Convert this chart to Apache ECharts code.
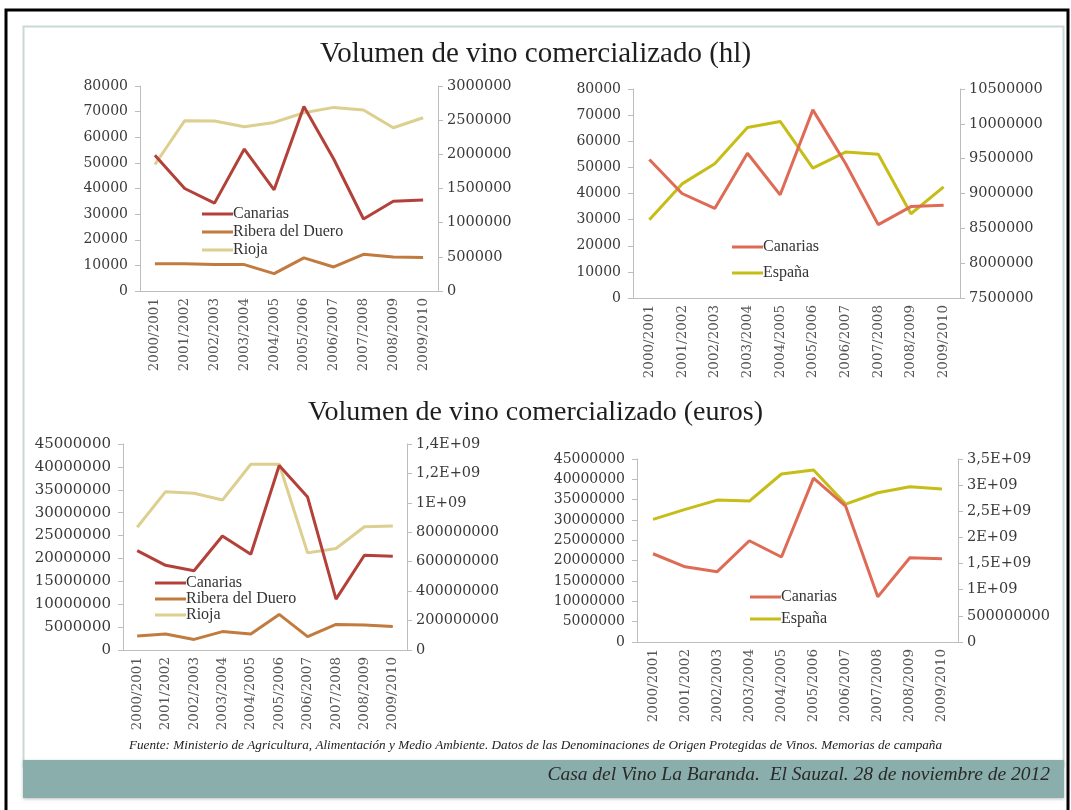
<!DOCTYPE html>
<html>
<head>
<meta charset="utf-8">
<title>Volumen de vino comercializado</title>
<script src="https://cdn.jsdelivr.net/npm/echarts@6/dist/echarts.min.js"></script>
<style>
  html, body { margin: 0; padding: 0; background: #fff; }
  #main { width: 1071px; height: 810px; }
</style>
</head>
<body>
<div id="main"></div>
<script>
// campañas (eje x comun)
var campanas = ['2000/2001', '2001/2002', '2002/2003', '2003/2004', '2004/2005',
                '2005/2006', '2006/2007', '2007/2008', '2008/2009', '2009/2010'];

// volumen en hl
var canariasHl = [53000, 40000, 34300, 55400, 39500, 72000, 51500, 28100, 35000, 35500];
var riberaHl   = [400000, 400000, 386000, 386000, 254000, 484000, 352000, 537000, 498000, 489000];
var riojaHl    = [1851000, 2492000, 2487000, 2404000, 2467000, 2609000, 2687000, 2648000, 2389000, 2536000];
var espanaHl   = [8622000, 9138000, 9427000, 9947000, 10034000, 9364000, 9595000, 9562000, 8709000, 9094000];

// volumen en euros
var canariasEur = [21700000, 18500000, 17300000, 24900000, 20900000, 40300000, 33400000, 11100000, 20700000, 20500000];
var riberaEur   = [95000000, 109000000, 72000000, 125000000, 109000000, 242000000, 91000000, 174000000, 170000000, 159000000];
var riojaEur    = [834000000, 1076000000, 1065000000, 1019000000, 1262000000, 1262000000, 660000000, 690000000, 838000000, 843000000];
var espanaEur   = [2344000000, 2536000000, 2714000000, 2695000000, 3213000000, 3289000000, 2638000000, 2855000000, 2970000000, 2925000000];

var titulos = ['Volumen de vino comercializado (hl)', 'Volumen de vino comercializado (euros)'];
var fuente = 'Fuente: Ministerio de Agricultura, Alimentación y Medio Ambiente. Datos de las Denominaciones de Origen Protegidas de Vinos. Memorias de campaña';
var pie = 'Casa del Vino La Baranda.  El Sauzal. 28 de noviembre de 2012';

// colores
var cRojo = '#b3413a', cRibera = '#c27b3e', cRioja = '#dccf8f';
var cRojoClaro = '#df6a55', cEspana = '#c6bd17';

var SERIF = '"DejaVu Serif", "Liberation Serif", serif';
var AXIS_GREY = '#bdbdbd';

// numeros al estilo excel: 1,4E+09
function excelNum(v) {
    if (v >= 1e9) {
        return String(v / 1e9).replace('.', ',') + 'E+09';
    }
    return String(v);
}

function xAxis(grid) {
    return {
        type: 'category', gridIndex: grid, data: campanas, boundaryGap: true,
        axisLine: { lineStyle: { color: AXIS_GREY } },
        axisTick: { lineStyle: { color: AXIS_GREY }, length: 5 },
        axisLabel: { rotate: 90, margin: 7, color: '#555', fontFamily: SERIF, fontSize: 13.5, interval: 0 }
    };
}

function yAxis(grid, pos, min, max, interval, size) {
    return {
        type: 'value', gridIndex: grid, position: pos, min: min, max: max, interval: interval,
        splitLine: { show: false },
        axisLine: { show: true, lineStyle: { color: AXIS_GREY } },
        axisTick: { show: true, length: 5, lineStyle: { color: AXIS_GREY } },
        axisLabel: { margin: pos == 'left' ? 12 : 9, color: '#3a3a3a', fontFamily: SERIF,
                     fontSize: size || (pos == 'left' ? 14 : 14.5), formatter: excelNum }
    };
}

function linea(name, data, idx, yIdx, color) {
    return {
        name: name, type: 'line', xAxisIndex: idx, yAxisIndex: yIdx, data: data,
        symbol: 'none', smooth: false,
        lineStyle: { color: color, width: 3 }, itemStyle: { color: color }
    };
}

function leyenda(left, top, gap, items) {
    return {
        orient: 'vertical', left: left, top: top, itemGap: gap,
        icon: 'rect', itemWidth: 31, itemHeight: 3, selectedMode: false,
        textStyle: { fontFamily: '"Liberation Serif", serif', fontSize: 16, color: '#333', padding: [0, 0, 0, -5] },
        data: items.map(function (it) {
            return { name: it[0], itemStyle: { color: it[1] } };
        })
    };
}

var tituloEstilo = { fontFamily: '"Liberation Serif", serif', fontWeight: 'normal', color: '#1e1e1e' };

var chart = echarts.init(document.getElementById('main'));
var option = {
    animation: false,
    backgroundColor: '#fff',
    title: [
        { text: titulos[0], left: 'center', top: 35, textStyle: Object.assign({ fontSize: 29 }, tituloEstilo) },
        { text: titulos[1], left: 'center', top: 394, textStyle: Object.assign({ fontSize: 28 }, tituloEstilo) }
    ],
    grid: [
        { left: 140, top: 86, width: 298, height: 205 },
        { left: 633, top: 89, width: 327, height: 209 },
        { left: 123, top: 444, width: 284, height: 206 },
        { left: 637, top: 459, width: 321, height: 183 }
    ],
    xAxis: [xAxis(0), xAxis(1), xAxis(2), xAxis(3)],
    yAxis: [
        yAxis(0, 'left', 0, 80000, 10000),
        yAxis(0, 'right', 0, 3000000, 500000),
        yAxis(1, 'left', 0, 80000, 10000),
        yAxis(1, 'right', 7500000, 10500000, 500000),
        yAxis(2, 'left', 0, 45000000, 5000000, 15),
        yAxis(2, 'right', 0, 1400000000, 200000000),
        yAxis(3, 'left', 0, 45000000, 5000000),
        yAxis(3, 'right', 0, 3500000000, 500000000)
    ],
    legend: [
        leyenda(197, 201, 2, [['Canarias', cRojo], ['Ribera del Duero', cRibera], ['Rioja', cRioja]]),
        leyenda(727, 234, 10, [['Canarias', cRojoClaro], ['España', cEspana]]),
        leyenda(150, 570, 0, [['Canarias', cRojo], ['Ribera del Duero', cRibera], ['Rioja', cRioja]]),
        leyenda(745, 584, 6, [['Canarias', cRojoClaro], ['España', cEspana]])
    ],
    series: [
        linea('Rioja', riojaHl, 0, 1, cRioja),
        linea('Ribera del Duero', riberaHl, 0, 1, cRibera),
        linea('Canarias', canariasHl, 0, 0, cRojo),

        linea('España', espanaHl, 1, 3, cEspana),
        linea('Canarias', canariasHl, 1, 2, cRojoClaro),

        linea('Rioja', riojaEur, 2, 5, cRioja),
        linea('Ribera del Duero', riberaEur, 2, 5, cRibera),
        linea('Canarias', canariasEur, 2, 4, cRojo),

        linea('España', espanaEur, 3, 7, cEspana),
        linea('Canarias', canariasEur, 3, 6, cRojoClaro)
    ],
    graphic: [
        // marco negro exterior
        { type: 'rect', z: -10, shape: { x: 6, y: 10, width: 1062, height: 830 },
          style: { fill: null, stroke: '#000', lineWidth: 3 } },
        // panel interior
        { type: 'rect', z: -9, shape: { x: 23.5, y: 26.5, width: 1040, height: 740 },
          style: { fill: null, stroke: '#c9d9d5', lineWidth: 2 } },
        // banda inferior
        { type: 'rect', z: -8, shape: { x: 23, y: 760, width: 1041, height: 38 },
          style: { fill: '#8aaeac', shadowBlur: 3, shadowColor: 'rgba(0,0,0,0.25)', shadowOffsetY: 1 } },
        { type: 'text', right: 21, top: 765, z: 10,
          style: { text: pie, fill: '#2a2a2a', font: 'italic 19.5px "Liberation Serif", serif' } },
        { type: 'text', z: 10, left: 'center', top: 739,
          style: { text: fuente, fill: '#222', font: 'italic 13.2px "Liberation Serif", serif' } }
    ]
};
chart.setOption(option);
</script>
</body>
</html>
